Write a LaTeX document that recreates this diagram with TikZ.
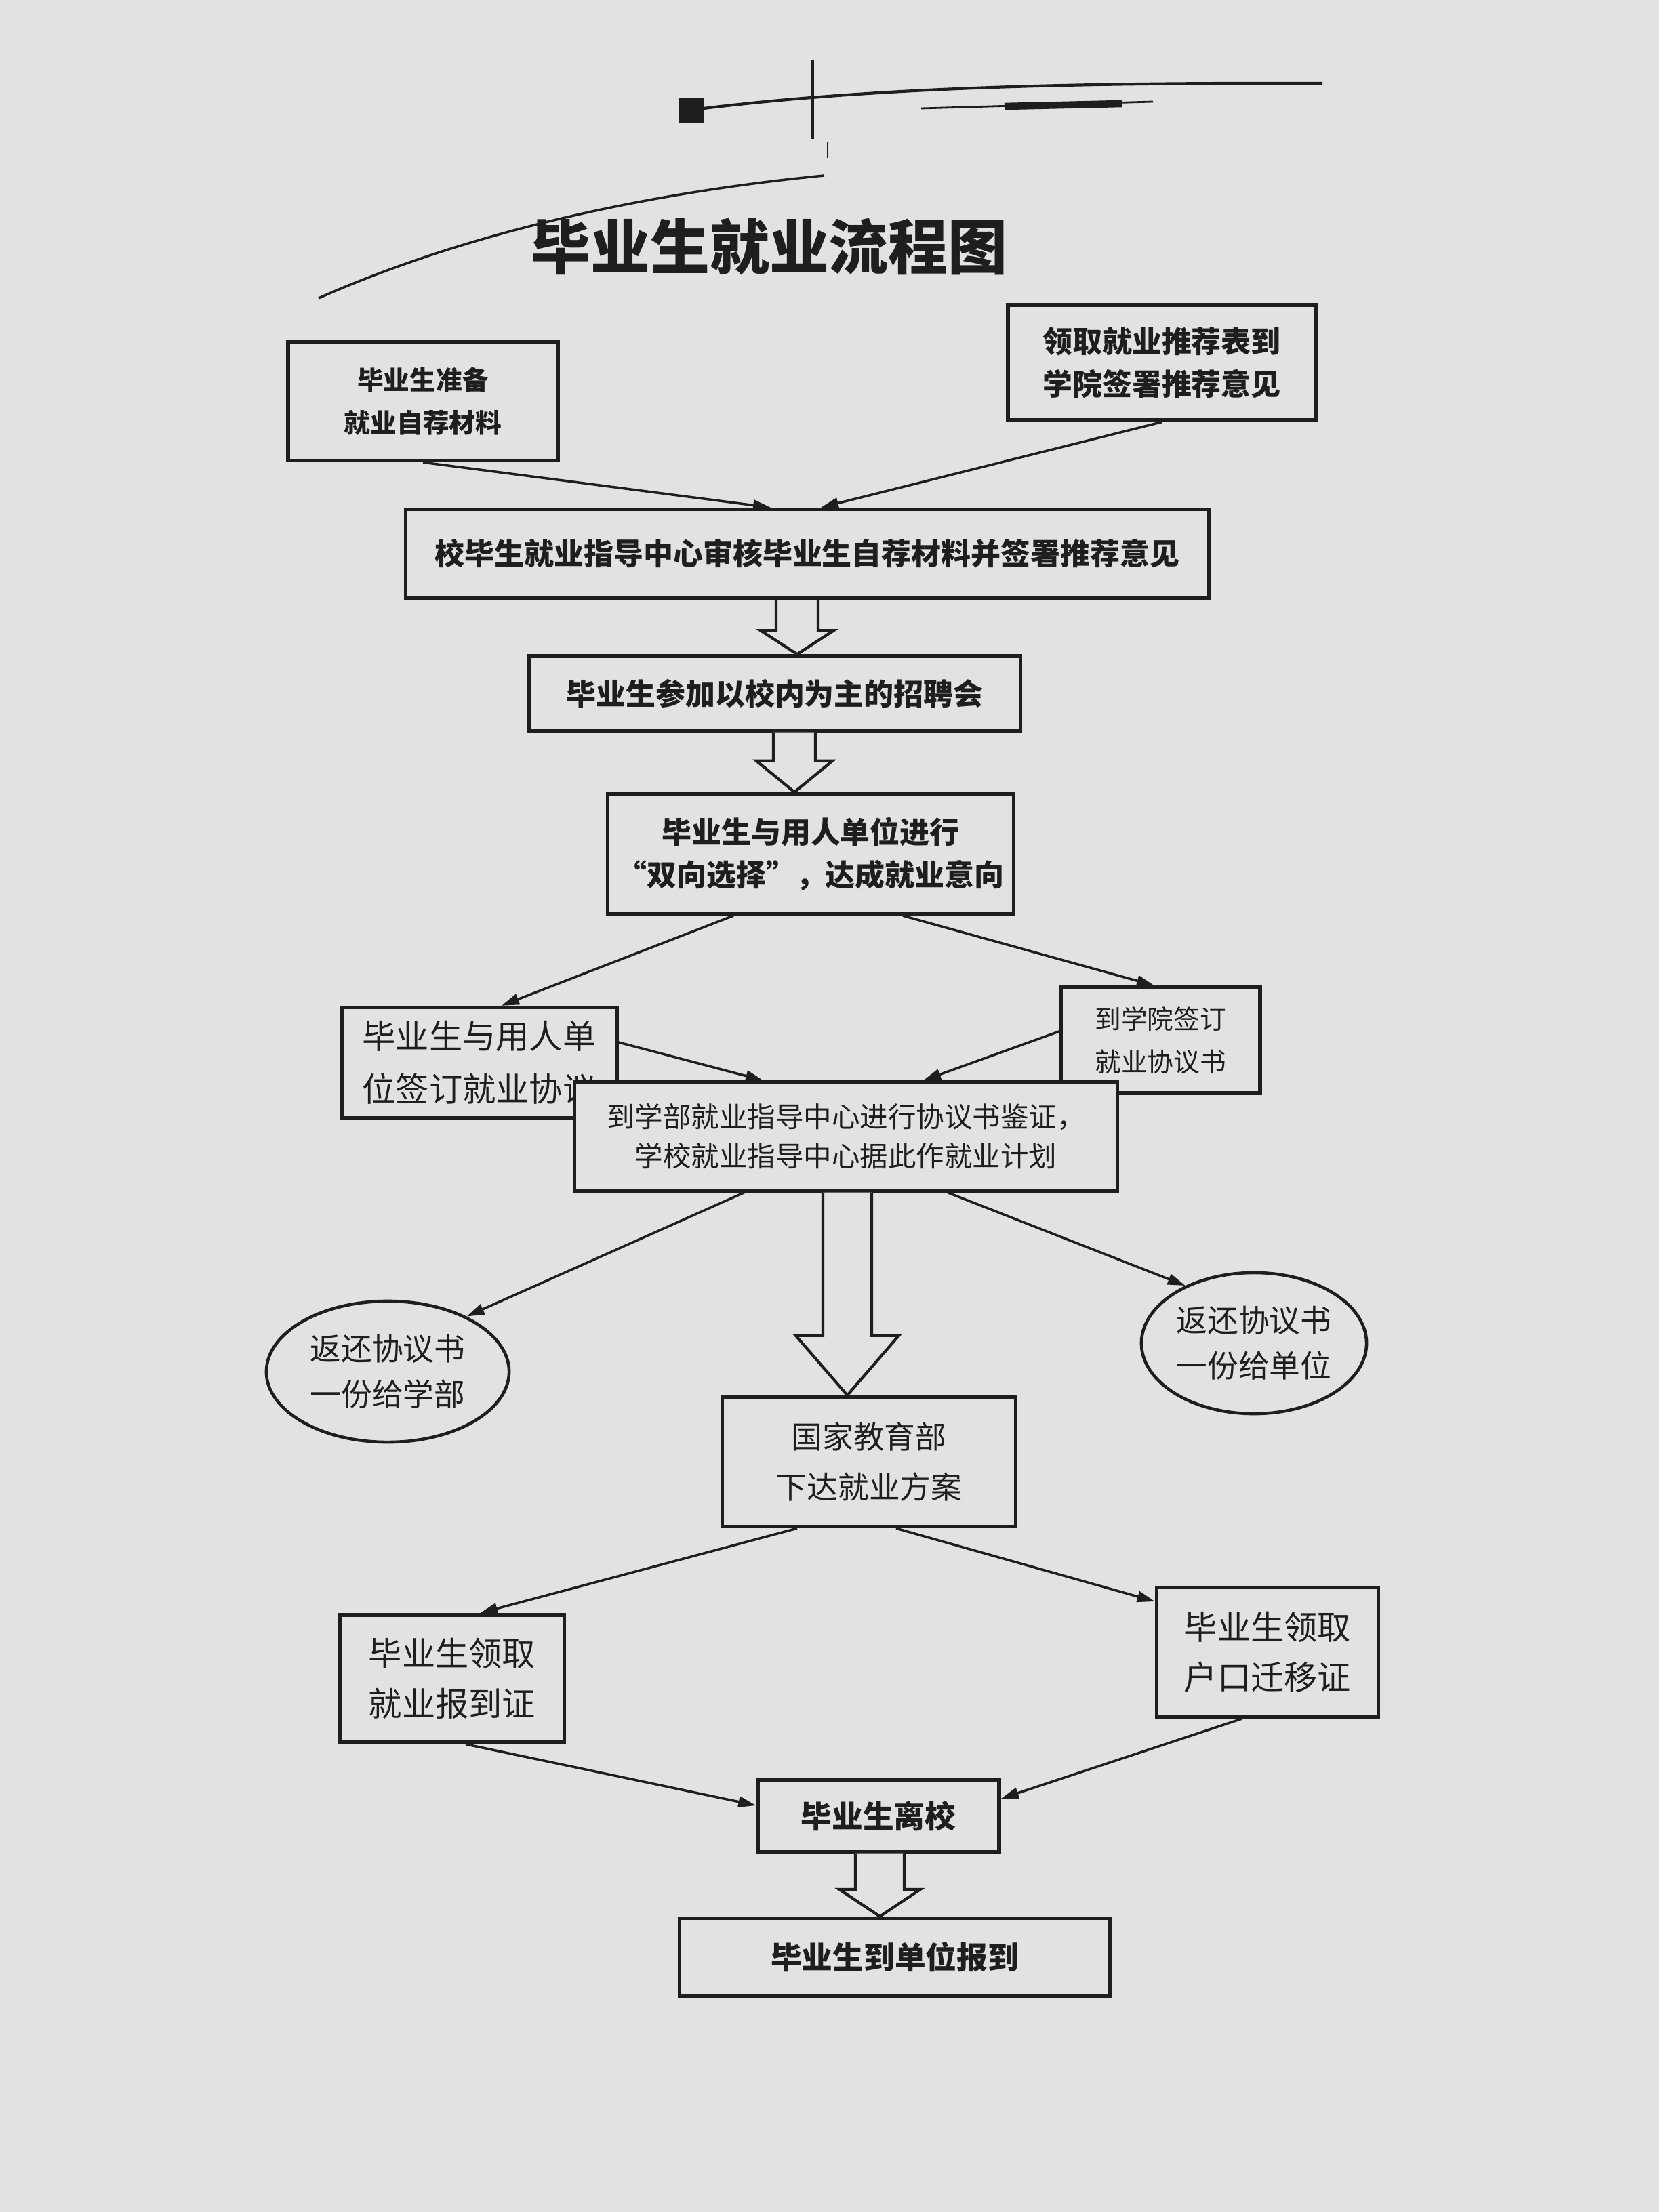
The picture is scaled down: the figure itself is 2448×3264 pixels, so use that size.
\documentclass[tikz,border=0pt]{standalone}
\usepackage{fontspec}
\setmainfont{Noto Sans CJK SC}
\usetikzlibrary{arrows.meta,calc,shapes.geometric}
\definecolor{paper}{RGB}{226,226,228}
\definecolor{ink}{RGB}{30,30,32}
\newcommand{\hollowarr}[5]{%
  \path #1 coordinate (ha-t);
  \path (ha-t |- #2.south) coordinate (ha-s);
  \draw[harrow] ($(ha-s)+(-#3,0)$) -- ($(ha-t)+(-#3,-#5)$) -- ($(ha-t)+(-#4,-#5)$) -- (ha-t)
     -- ($(ha-t)+(#4,-#5)$) -- ($(ha-t)+(#3,-#5)$) -- ($(ha-s)+(#3,0)$);
}
\begin{document}
\begin{tikzpicture}[x=0.01cm,y=-0.01cm,
  box/.style={draw=ink, line width=1.5pt, rectangle, inner sep=0pt, align=center, text=ink},
  oval/.style={draw=ink, line width=1.3pt, ellipse, inner sep=0pt, align=center, text=ink},
  conn/.style={draw=ink, line width=1pt, -{Triangle[length=0.26cm,width=0.16cm]}},
  harrow/.style={draw=ink, line width=1.2pt, fill=paper, line join=miter},
  fa/.style={font=\fontsize{12.5pt}{18pt}\selectfont\bfseries},
  fb/.style={font=\fontsize{13pt}{20pt}\selectfont},
  fc/.style={font=\fontsize{14pt}{21pt}\selectfont}]
\fill[paper] (0,0) rectangle (2448,3264);
\useasboundingbox (0,0) rectangle (2448,3264);

% header decoration
\fill[ink] (1002,145) rectangle (1038,182);
\draw[ink, line width=1.2pt] (1038,160) .. controls (1300,128) and (1600,122) .. (1951,123);
\draw[ink, line width=1.2pt] (1199,88) -- (1199,205);
\draw[ink, line width=0.8pt] (1221,210) -- (1221,233);
\draw[ink, line width=0.8pt] (1359,160) -- (1701,150);
\draw[ink, line width=3pt] (1482,157) -- (1655,153);
\draw[ink, line width=1pt] (1216,259) .. controls (900,290) and (650,360) .. (470,440);

% title
\node[text=ink, font=\fontsize{25pt}{30pt}\selectfont\bfseries] (title) at (1135,364) {毕业生就业流程图};

% nodes
\node[box, fa, font=\fontsize{11pt}{18pt}\selectfont\bfseries, minimum width=3.98cm, minimum height=1.75cm] (b1) at (624,592) {毕业生准备\\就业自荐材料};
\node[box, fa, minimum width=4.54cm, minimum height=1.70cm] (b2) at (1714,535) {领取就业推荐表到\\学院签署推荐意见};
\node[box, fa, minimum width=11.84cm, minimum height=1.31cm] (b3) at (1191,817) {校毕生就业指导中心审核毕业生自荐材料并签署推荐意见};
\node[box, fa, minimum width=7.24cm, minimum height=1.10cm] (b4) at (1143,1023) {毕业生参加以校内为主的招聘会};
\node[box, fa, minimum width=5.98cm, minimum height=1.77cm] (b5) at (1196,1260) {毕业生与用人单位进行\\“双向选择”，达成就业意向};
\node[box, font=\fontsize{14pt}{22pt}\selectfont, minimum width=4.06cm, minimum height=1.63cm] (b6) at (707,1568) {毕业生与用人单\\位签订就业协议};
\node[box, font=\fontsize{11pt}{18pt}\selectfont, minimum width=2.94cm, minimum height=1.56cm] (b7) at (1712,1535) {到学院签订\\就业协议书};
\node[box, fill=paper, font=\fontsize{11.8pt}{16.5pt}\selectfont, minimum width=8.00cm, minimum height=1.60cm] (b8) at (1248,1677) {到学部就业指导中心进行协议书鉴证，\\学校就业指导中心据此作就业计划};
\node[oval, font=\fontsize{13pt}{19pt}\selectfont, minimum width=3.58cm, minimum height=2.08cm] (e1) at (572,2024) {返还协议书\\一份给学部};
\node[oval, font=\fontsize{13pt}{19pt}\selectfont, minimum width=3.32cm, minimum height=2.08cm] (e2) at (1850,1982) {返还协议书\\一份给单位};
\node[box, fb, font=\fontsize{13pt}{21pt}\selectfont, minimum width=4.33cm, minimum height=1.91cm] (b9) at (1282,2157) {国家教育部\\下达就业方案};
\node[box, fc, minimum width=3.31cm, minimum height=1.88cm] (b10) at (667,2477) {毕业生领取\\就业报到证};
\node[box, fc, minimum width=3.27cm, minimum height=1.91cm] (b11) at (1870,2438) {毕业生领取\\户口迁移证};
\node[box, font=\fontsize{13pt}{18pt}\selectfont\bfseries, minimum width=3.56cm, minimum height=1.06cm] (b12) at (1296,2680) {毕业生离校};
\node[box, font=\fontsize{13pt}{18pt}\selectfont\bfseries, minimum width=6.34cm, minimum height=1.15cm] (b13) at (1320,2888) {毕业生到单位报到};

% connectors
\draw[conn] (b1.south) -- ($(b3.north)+(-54,0)$);
\draw[conn] (b2.south) -- ($(b3.north)+(20,0)$);
\hollowarr{($(b4.north)+(33,0)$)}{b3}{31}{54}{35}
\hollowarr{($(b5.north)+(-24,0)$)}{b4}{31}{56}{46}
\draw[conn] ($(b5.south)+(-114,0)$) -- ($(b6.north)+(33,0)$);
\draw[conn] ($(b5.south)+(136,0)$) -- ($(b7.north)+(-9,0)$);
\draw[conn] ($(b6.east)+(0,-30)$) -- ($(b8.north)+(-122,0)$);
\draw[conn] ($(b7.west)+(0,-13)$) -- ($(b8.north)+(114,0)$);
\draw[conn] ($(b8.south)+(-150,0)$) -- (e1.35);
\draw[conn] ($(b8.south)+(150,0)$) -- (e2.140);
\hollowarr{($(b9.north)+(-32,0)$)}{b8}{36}{76}{88}
\draw[conn] ($(b9.south)+(-106,0)$) -- ($(b10.north)+(41,0)$);
\draw[conn] ($(b9.south)+(40,0)$) -- ($(b11.west)+(0,-75)$);
\draw[conn] ($(b10.south)+(20,0)$) -- ($(b12.west)+(0,-16)$);
\draw[conn] ($(b11.south)+(-38,0)$) -- ($(b12.east)+(0,-26)$);
\hollowarr{($(b13.north)+(-22,0)$)}{b12}{36}{60}{40}
\end{tikzpicture}
\end{document}
